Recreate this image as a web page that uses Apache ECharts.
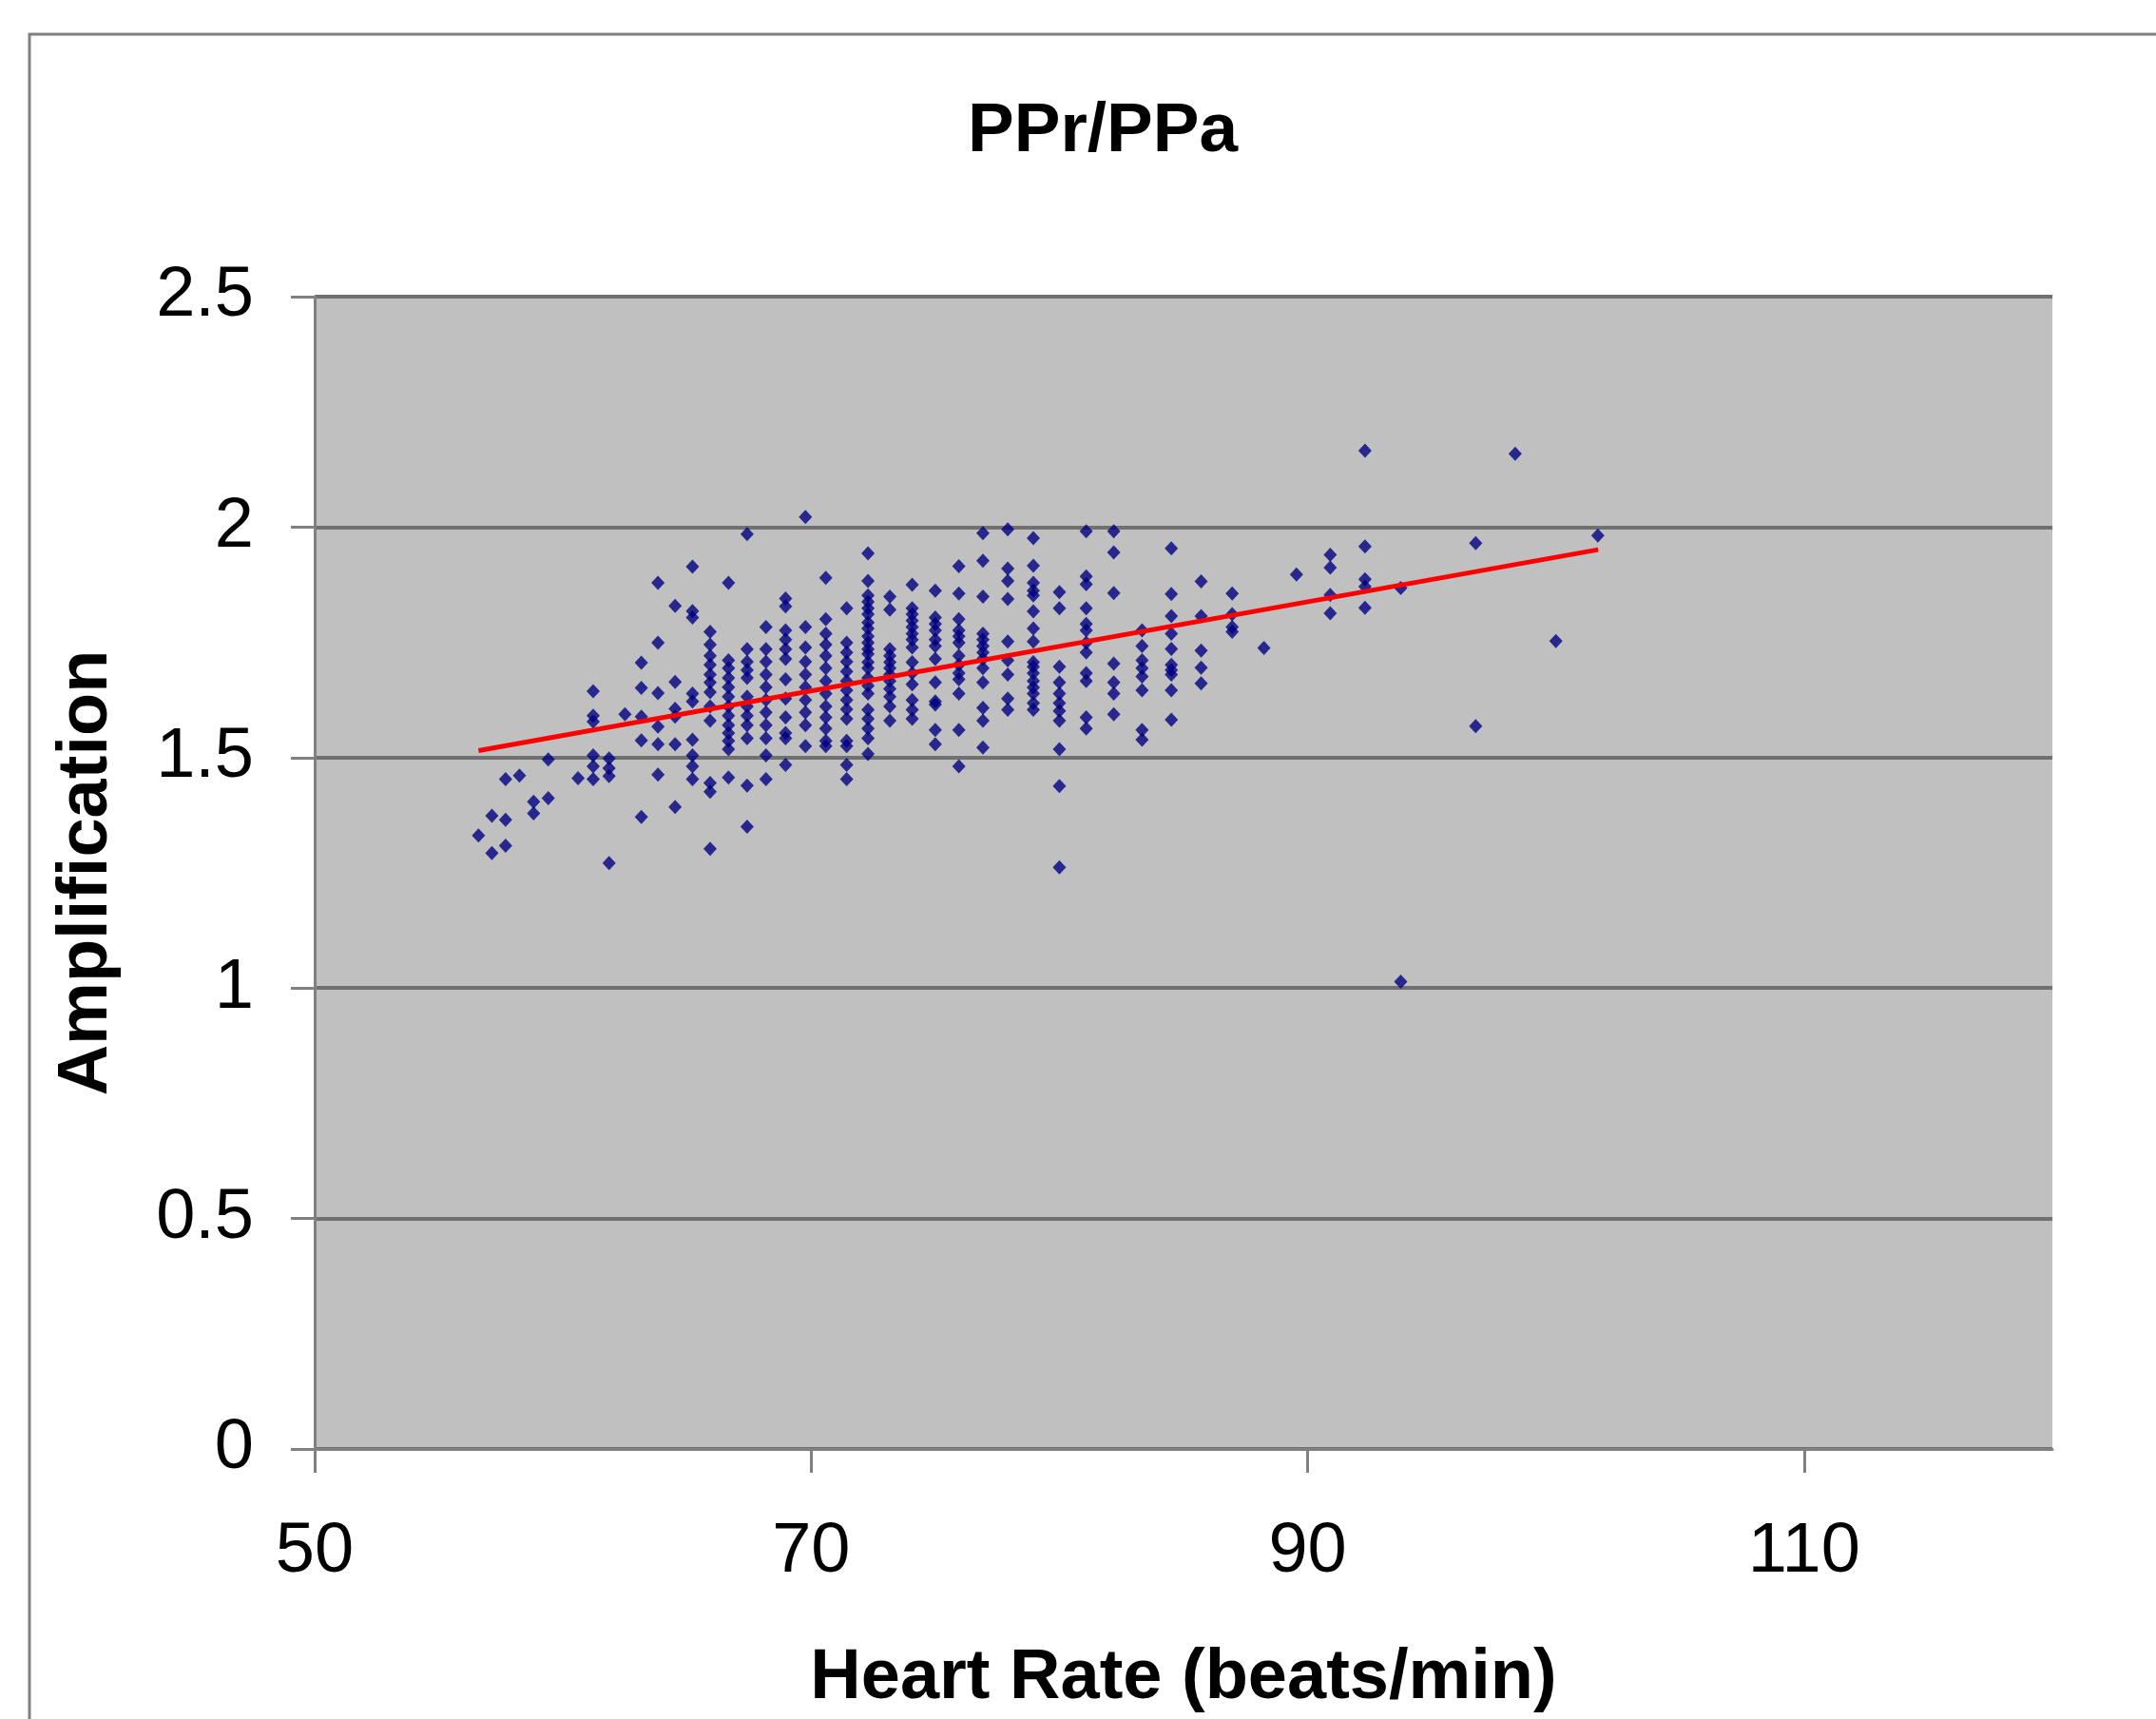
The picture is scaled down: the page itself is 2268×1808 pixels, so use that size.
<!DOCTYPE html>
<html>
<head>
<meta charset="utf-8">
<script src="https://cdn.jsdelivr.net/npm/echarts@6/dist/echarts.min.js"></script>
<style>
    html, body { margin: 0; padding: 0; background: #fff; }
    #chart { width: 2268px; height: 1808px; }
</style>
</head>
<body>
<div id="chart"></div>
<script>
// heart rate columns (beats/min)
const heartRate = [56.60, 57.14, 57.69, 58.25, 58.82, 59.41, 60.61, 61.22, 61.86, 62.50,
    63.16, 63.83, 64.52, 65.22, 65.93, 66.67, 67.42, 68.18, 68.97, 69.77,
    70.59, 71.43, 72.29, 73.17, 74.07, 75.00, 75.95, 76.92, 77.92, 78.95,
    80.00, 81.08, 82.19, 83.33, 84.51, 85.71, 86.96, 88.24, 89.55, 90.91,
    92.31, 93.75, 96.77, 98.36, 100.00, 101.69]

// amplification values for each heart rate column
const amplification = [
    [1.331],
    [1.374, 1.293],
    [1.453, 1.365, 1.309],
    [1.461],
    [1.404, 1.379],
    [1.496, 1.412],
    [1.455],
    [1.644, 1.591, 1.578, 1.505, 1.481, 1.453],
    [1.498, 1.477, 1.460, 1.271],
    [1.594],
    [1.706, 1.651, 1.589, 1.537, 1.371],
    [1.879, 1.749, 1.640, 1.567, 1.529, 1.463],
    [1.829, 1.664, 1.606, 1.589, 1.529, 1.393],
    [1.914, 1.818, 1.804, 1.639, 1.622, 1.539, 1.505, 1.481, 1.453],
    [1.773, 1.745, 1.721, 1.701, 1.680, 1.663, 1.642, 1.611, 1.580, 1.445, 1.426, 1.302],
    [1.879, 1.711, 1.694, 1.673, 1.653, 1.632, 1.611, 1.591, 1.570, 1.553, 1.536, 1.518, 1.457],
    [1.985, 1.735, 1.708, 1.690, 1.673, 1.632, 1.611, 1.591, 1.570, 1.542, 1.439, 1.350],
    [1.783, 1.735, 1.708, 1.680, 1.653, 1.625, 1.598, 1.570, 1.542, 1.505, 1.453],
    [1.845, 1.828, 1.776, 1.756, 1.735, 1.714, 1.670, 1.628, 1.587, 1.553, 1.542, 1.484],
    [2.022, 1.783, 1.739, 1.708, 1.680, 1.653, 1.625, 1.598, 1.570, 1.525],
    [1.890, 1.800, 1.769, 1.745, 1.721, 1.694, 1.666, 1.639, 1.611, 1.587, 1.563, 1.536, 1.525],
    [1.824, 1.749, 1.728, 1.708, 1.687, 1.666, 1.646, 1.625, 1.605, 1.584, 1.536, 1.525, 1.484, 1.453],
    [1.943, 1.883, 1.852, 1.838, 1.824, 1.811, 1.793, 1.780, 1.763, 1.749, 1.735, 1.725, 1.707, 1.694, 1.673, 1.656, 1.639, 1.604, 1.584, 1.563, 1.542, 1.508],
    [1.849, 1.821, 1.735, 1.721, 1.707, 1.694, 1.680, 1.666, 1.649, 1.632, 1.611, 1.580],
    [1.875, 1.824, 1.811, 1.797, 1.783, 1.769, 1.756, 1.739, 1.707, 1.683, 1.659, 1.625, 1.604, 1.584],
    [1.862, 1.804, 1.790, 1.776, 1.756, 1.742, 1.714, 1.663, 1.622, 1.615, 1.560, 1.529],
    [1.915, 1.856, 1.800, 1.776, 1.763, 1.749, 1.721, 1.701, 1.683, 1.670, 1.639, 1.560, 1.481],
    [1.987, 1.927, 1.849, 1.769, 1.756, 1.742, 1.728, 1.714, 1.694, 1.663, 1.608, 1.580, 1.522],
    [1.995, 1.910, 1.883, 1.844, 1.752, 1.711, 1.680, 1.628, 1.604],
    [1.976, 1.916, 1.879, 1.862, 1.852, 1.817, 1.780, 1.752, 1.707, 1.697, 1.683, 1.666, 1.652, 1.639, 1.618, 1.604],
    [1.859, 1.824, 1.697, 1.663, 1.639, 1.618, 1.601, 1.580, 1.518, 1.438, 1.262],
    [1.991, 1.893, 1.876, 1.824, 1.790, 1.776, 1.749, 1.728, 1.683, 1.666, 1.587, 1.563],
    [1.991, 1.945, 1.857, 1.704, 1.663, 1.639, 1.594],
    [1.776, 1.742, 1.711, 1.694, 1.676, 1.646, 1.560, 1.539],
    [1.954, 1.855, 1.807, 1.769, 1.736, 1.701, 1.690, 1.680, 1.646, 1.582],
    [1.882, 1.807, 1.732, 1.695, 1.661],
    [1.856, 1.811, 1.783, 1.773],
    [1.738],
    [1.897],
    [1.940, 1.912, 1.853, 1.813],
    [2.166, 1.958, 1.887, 1.871, 1.825],
    [1.868, 1.014],
    [1.965, 1.568],
    [2.159],
    [1.753],
    [1.982]
]

// linear trend line end points
const trendX = [56.6, 101.7]
const trendY = [1.515, 1.951]

// axis ticks
const xTicks = [50, 70, 90, 110]
const yTicks = [0, 0.5, 1, 1.5, 2, 2.5]

const points = []
heartRate.forEach((hr, i) => {
    amplification[i].forEach(v => points.push([hr, v]))
})
const trend = trendX.map((x, i) => [x, trendY[i]])

const FONT = "'Liberation Sans', Arial, sans-serif"
const AXIS_GRAY = '#808080'
const GRID_GRAY = '#707070'

const option = {
    animation: false,
    backgroundColor: '#ffffff',
    title: {
        text: 'PPr/PPa',
        left: 1018,
        top: 102,
        padding: 0,
        textStyle: {
            fontFamily: FONT,
            fontSize: 73,
            fontWeight: 'bold',
            color: '#000'
        }
    },
    graphic: [{
        type: 'rect',
        z: -10,
        shape: { x: 31, y: 36, width: 2300, height: 1850 },
        style: { fill: 'none', stroke: AXIS_GRAY, lineWidth: 3 }
    }],
    grid: {
        left: 331,
        top: 312,
        right: 109,
        bottom: 283,
        show: true,
        backgroundColor: '#C0C0C0',
        borderWidth: 0
    },
    xAxis: {
        type: 'value',
        min: xTicks[0],
        max: 120,
        interval: 20,
        name: 'Heart Rate (beats/min)',
        nameLocation: 'middle',
        nameGap: 205,
        nameTextStyle: {
            fontFamily: FONT,
            fontSize: 74,
            fontWeight: 'bold',
            color: '#000'
        },
        axisLine: { show: true, lineStyle: { color: AXIS_GRAY, width: 3 } },
        axisTick: {
            show: true,
            length: 25,
            customValues: xTicks,
            lineStyle: { color: AXIS_GRAY, width: 3 }
        },
        axisLabel: {
            customValues: xTicks,
            margin: 72,
            fontFamily: FONT,
            fontSize: 74,
            color: '#000'
        },
        splitLine: { show: false }
    },
    yAxis: {
        type: 'value',
        min: yTicks[0],
        max: yTicks[yTicks.length - 1],
        interval: 0.5,
        name: 'Amplification',
        nameLocation: 'middle',
        nameGap: 202,
        nameTextStyle: {
            fontFamily: FONT,
            fontSize: 74,
            fontWeight: 'bold',
            color: '#000'
        },
        axisLine: { show: true, lineStyle: { color: AXIS_GRAY, width: 3 } },
        axisTick: {
            show: true,
            length: 25,
            lineStyle: { color: AXIS_GRAY, width: 3 }
        },
        axisLabel: {
            margin: 64,
            fontFamily: FONT,
            fontSize: 74,
            color: '#000'
        },
        splitLine: { show: true, lineStyle: { color: GRID_GRAY, width: 4 } }
    },
    series: [
        {
            name: 'PPr/PPa',
            type: 'scatter',
            symbol: 'diamond',
            symbolSize: [14, 15],
            itemStyle: { color: '#000080' },
            data: points
        },
        {
            name: 'trend',
            type: 'line',
            symbol: 'none',
            lineStyle: { color: '#FF0000', width: 5 },
            data: trend
        }
    ]
}

const myChart = echarts.init(document.getElementById('chart'))
myChart.setOption(option)
</script>
</body>
</html>
